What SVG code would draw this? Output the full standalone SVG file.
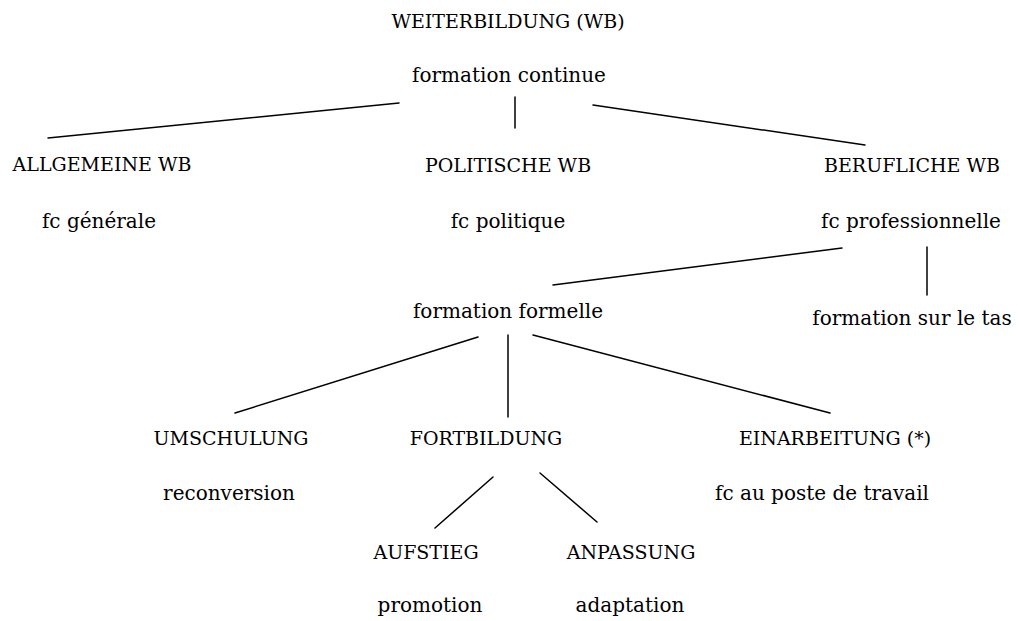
<svg xmlns="http://www.w3.org/2000/svg" width="1019" height="621" viewBox="0 0 1019 621">
<style>
text{font-family:"DejaVu Serif","Liberation Serif",serif;font-size:20px;fill:#000;text-anchor:middle}
text.u{font-size:19px}
.c line{stroke:#000;stroke-width:1.5;stroke-linecap:round}
</style>
<rect width="1019" height="621" fill="#fff"/>
<g class="c" id="connectors">
<line x1="399" y1="103" x2="48" y2="138"/>
<line x1="515" y1="97" x2="515" y2="128"/>
<line x1="593" y1="105" x2="865" y2="145"/>
<line x1="842" y1="248" x2="553" y2="285"/>
<line x1="927" y1="247" x2="927" y2="295"/>
<line x1="478" y1="337" x2="235" y2="413"/>
<line x1="508" y1="335" x2="508" y2="417"/>
<line x1="533" y1="335" x2="830" y2="413"/>
<line x1="493" y1="477" x2="435" y2="528"/>
<line x1="540" y1="473" x2="597" y2="522"/>
</g>
<g id="n-wb"><text class="u" x="508" y="28">WEITERBILDUNG (WB)</text><text x="509" y="82">formation continue</text></g>
<g id="n-allg"><text class="u" x="102" y="171">ALLGEMEINE WB</text><text x="99" y="228">fc générale</text></g>
<g id="n-pol"><text class="u" x="508" y="172">POLITISCHE WB</text><text x="508" y="228">fc politique</text></g>
<g id="n-beruf"><text class="u" x="912" y="172">BERUFLICHE WB</text><text x="911" y="228">fc professionnelle</text></g>
<g id="n-formelle"><text x="508" y="318">formation formelle</text></g>
<g id="n-tas"><text x="912" y="325">formation sur le tas</text></g>
<g id="n-umsch"><text class="u" x="231" y="445">UMSCHULUNG</text><text x="229" y="500">reconversion</text></g>
<g id="n-fortb"><text class="u" x="486" y="445">FORTBILDUNG</text></g>
<g id="n-einarb"><text class="u" x="835" y="445">EINARBEITUNG (*)</text><text x="822" y="500">fc au poste de travail</text></g>
<g id="n-aufst"><text class="u" x="426" y="559">AUFSTIEG</text><text x="430" y="612">promotion</text></g>
<g id="n-anp"><text class="u" x="631" y="559">ANPASSUNG</text><text x="630" y="612">adaptation</text></g>
</svg>
